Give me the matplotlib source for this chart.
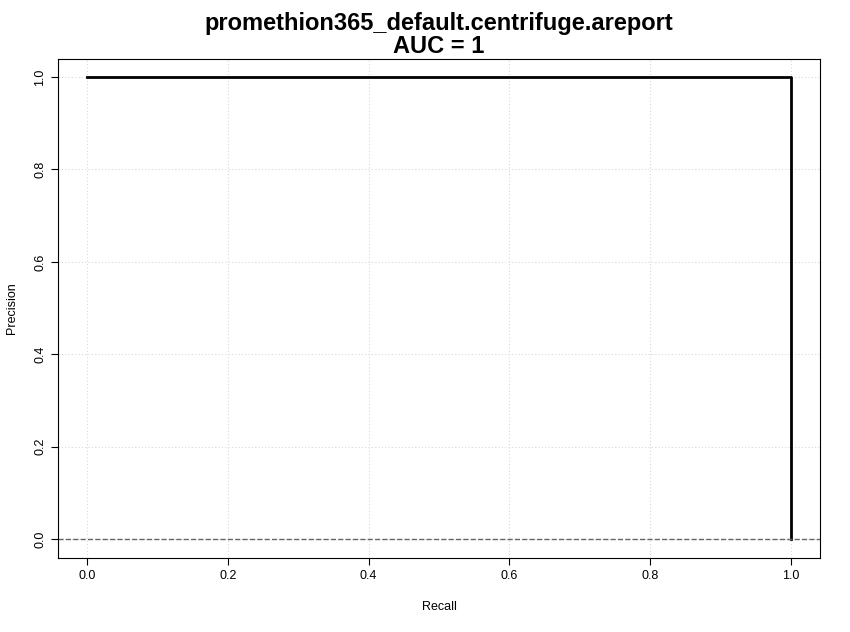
import matplotlib
matplotlib.use("Agg")
import matplotlib.pyplot as plt

# curve points
recall = [0.0, 1.0, 1.0]
precision = [1.0, 1.0, 0.0]
baseline = 0.0
ticks = [0.0, 0.2, 0.4, 0.6, 0.8, 1.0]
title = "promethion365_default.centrifuge.areport\nAUC = 1"

plt.rcParams['font.family'] = ['Liberation Sans', 'DejaVu Sans']

fig = plt.figure(figsize=(8.5, 6.32), dpi=100)
ax = fig.add_axes([58/850, 1-558/632, (820-58)/850, (558-59)/632])

ax.grid(color="#d8d8d8", ls=(0, (1, 2)), lw=0.8)
ax.set_axisbelow(True)
ax.plot(recall, precision, color="black", lw=2)
ax.axhline(baseline, color="#666666", ls="--", lw=1)

ax.set_xlim(-0.041, 1.041)
ax.set_ylim(-0.041, 1.039)
ax.set_xticks(ticks)
ax.set_yticks(ticks)
ax.set_xticklabels([f"{t:.1f}" for t in ticks])
ax.set_yticklabels([f"{t:.1f}" for t in ticks], rotation=90, va="center")
ax.tick_params(labelsize=9, length=5)
ax.set_xlabel("Recall", fontsize=9, labelpad=14)
ax.set_ylabel("Precision", fontsize=9, labelpad=12)
ax.set_title(title, fontsize=17, fontweight="bold", pad=4, linespacing=1.0)

fig.savefig("out.png", dpi=100)
